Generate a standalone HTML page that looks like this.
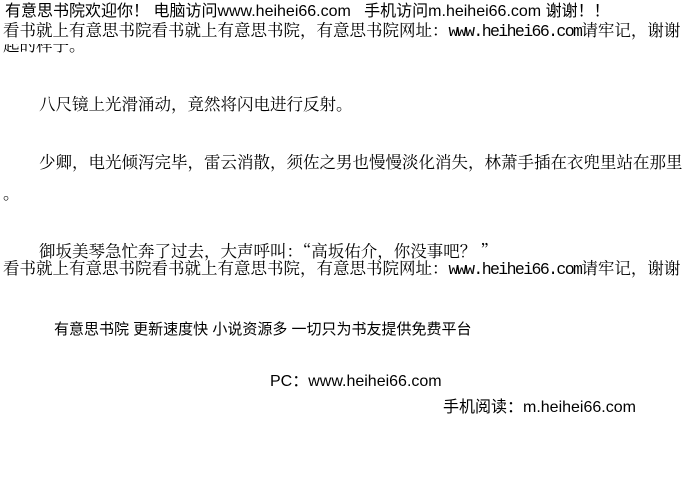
<!DOCTYPE html>
<html><head><meta charset="utf-8"><style>
html,body{margin:0;padding:0;background:#fff;width:688px;height:477px;overflow:hidden;position:relative}
.t{position:absolute;white-space:nowrap;color:#000;line-height:1}
.b{font-family:"Noto Serif CJK SC","Noto Sans CJK SC",serif;font-size:16.5px}
.m{font-family:"Liberation Mono",monospace;letter-spacing:-1.6px}
.s{font-family:"Liberation Sans","Noto Sans CJK SC",sans-serif}
</style></head><body>
<div class="t b" style="left:3px;top:36px;clip-path:inset(8px 0 0 0)">起的样子。</div>
<div class="t s" style="left:5px;top:4px;font-size:16px;background:#fff">有意思书院欢迎你！ 电脑访问www.heihei66.com&nbsp;&nbsp;&nbsp;手机访问m.heihei66.com 谢谢！！</div>
<div class="t b" style="left:3px;top:21px">看书就上有意思书院看书就上有意思书院，有意思书院网址：<span class="m">www.heihei66.com</span>请牢记，谢谢</div>
<div class="t b" style="left:39px;top:95px">八尺镜上光滑涌动，竟然将闪电进行反射。</div>
<div class="t b" style="left:39px;top:153px">少卿，电光倾泻完毕，雷云消散，须佐之男也慢慢淡化消失，林萧手插在衣兜里站在那里</div>
<div class="t b" style="left:3px;top:184px">。</div>
<div class="t b" style="left:39px;top:242px">御坂美琴急忙奔了过去，大声呼叫：“高坂佑介，你没事吧？ ”</div>
<div class="t b" style="left:3px;top:259px">看书就上有意思书院看书就上有意思书院，有意思书院网址：<span class="m">www.heihei66.com</span>请牢记，谢谢</div>
<div class="t s" style="left:54px;top:322px;font-size:15px">有意思书院 更新速度快 小说资源多 一切只为书友提供免费平台</div>
<div class="t s" style="left:270px;top:374px;font-size:16px">PC：www.heihei66.com</div>
<div class="t s" style="left:443px;top:400px;font-size:16px">手机阅读：m.heihei66.com</div>
</body></html>
